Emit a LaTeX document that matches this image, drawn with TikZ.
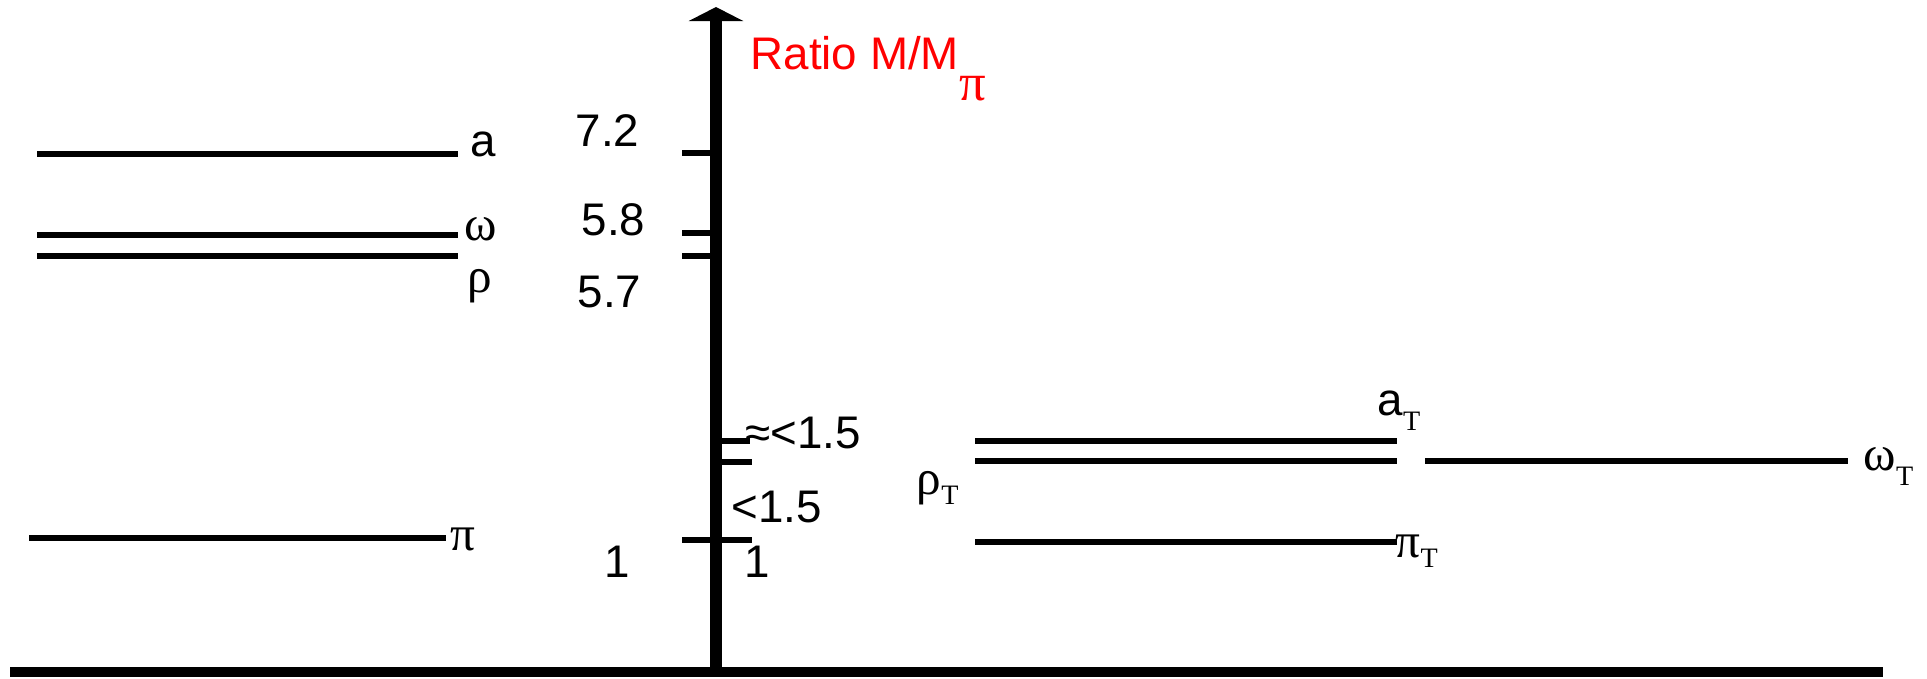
\documentclass[tikz,border=0pt]{standalone}
\usepackage{fontspec}
\setmainfont{Liberation Sans}
\newfontfamily\greekfont{Liberation Serif}
\usetikzlibrary{arrows.meta}
\definecolor{ratiored}{RGB}{255,0,0}
\newcommand{\gr}[1]{{\fontsize{14}{14}\selectfont\greekfont #1}}
\newcommand{\lowT}[1]{\raisebox{#1}{\fontsize{8}{8}\selectfont\greekfont T}}

\begin{document}
\begin{tikzpicture}[x=0.01cm,y=-0.01cm,
  level/.style={line width=1.7pt},
  tickmark/.style={line width=1.7pt},
  lab/.style={inner sep=0pt,anchor=base west,font=\fontsize{13}{15}\selectfont}]
\useasboundingbox (0,0) rectangle (1927,678);

% Eixos
\coordinate (base-l) at (10,672);
\coordinate (base-r) at (1883,672);
\coordinate (axis-bot) at (716,672);
\coordinate (axis-top) at (716,7);
\draw[line width=2.85pt] (base-l) -- (base-r);
\draw[line width=3.6pt,-{Triangle[width=0.54cm,length=0.14cm]}] (axis-bot) -- (axis-top);
\node[lab,text=ratiored] (ratio) at (750,69)
  {Ratio M/M\raisebox{-9pt}{\fontsize{15}{15}\selectfont\greekfont π}};

% Marcas
\draw[tickmark] (682,153) -- (716,153);
\draw[tickmark] (682,233) -- (716,233);
\draw[tickmark] (682,256) -- (716,256);
\draw[tickmark] (716,441) -- (750,441);
\draw[tickmark] (716,462) -- (752,462);
\draw[tickmark] (682,540) -- (752,540);

\node[lab] (v72) at (575,146) {7.2};
\node[lab] (v58) at (581,235) {5.8};
\node[lab] (v57) at (577,307) {5.7};
\node[lab] (v15a) at (745,448) {≈<1.5};
\node[lab] (v15b) at (731,522) {<1.5};
\node[lab] (v1l) at (604,577) {1};
\node[lab] (v1r) at (744,577) {1};

% QCD
\draw[level] (37,154) -- (458,154);
\draw[level] (37,235) -- (458,235);
\draw[level] (37,256) -- (458,256);
\draw[line width=1.5pt] (29,538) -- (446,538);

\node[lab] (a) at (470,156) {a};
\node[lab] (omega) at (464,240) {\gr{ω}};
\node[lab] (rho) at (467,292) {\gr{ρ}};
\node[lab] (pi) at (450,550) {\gr{π}};

% Technicolor
\draw[level] (975,441) -- (1397,441);
\draw[level] (975,461) -- (1397,461);
\draw[level] (1425,461) -- (1848,461);
\draw[level] (975,542) -- (1397,542);

\node[lab] (aT) at (1377,415) {a\lowT{-4.3pt}};
\node[lab] (rhoT) at (916,494) {\gr{ρ}\lowT{-3pt}};
\node[lab] (piT) at (1395,557) {\gr{π}\lowT{-3pt}};
\node[lab] (omegaT) at (1863,470) {\gr{ω}\lowT{-4.3pt}};

\end{tikzpicture}
\end{document}
